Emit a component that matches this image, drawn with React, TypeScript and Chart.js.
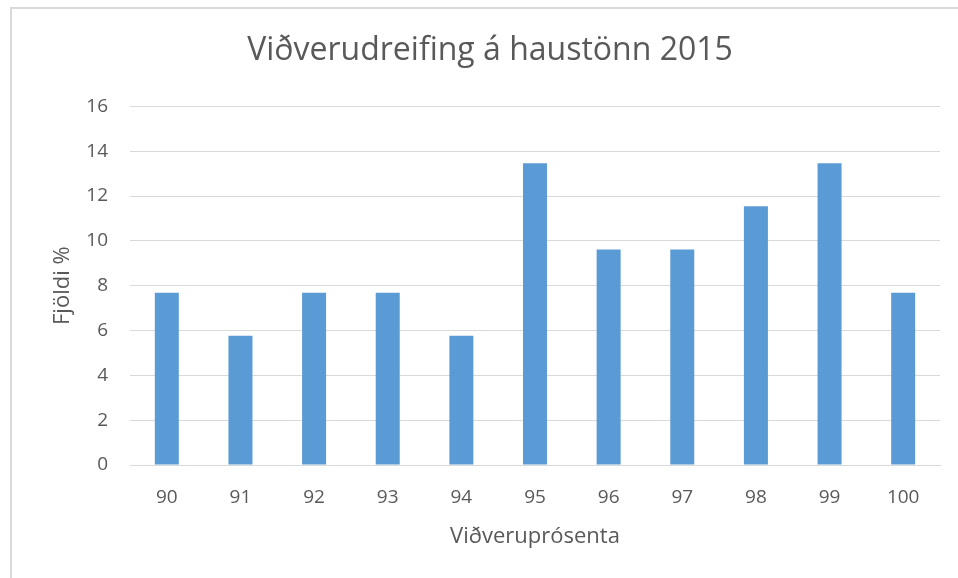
import React, { useEffect, useRef } from "react";
import { Chart, registerables } from "chart.js";

Chart.register(...registerables);

const categories = ["90", "91", "92", "93", "94", "95", "96", "97", "98", "99", "100"];
const values = [7.69, 5.77, 7.69, 7.69, 5.77, 13.46, 9.62, 9.62, 11.54, 13.46, 7.69];
const yTicks = [0, 2, 4, 6, 8, 10, 12, 14, 16];
const titleText = "Viðverudreifing á haustönn 2015";
const xTitle = "Viðveruprósenta";
const yTitle = "Fjöldi %";

const FONT = "'Open Sans', 'Liberation Sans', sans-serif";
const TEXT = "#595959";
const GRID = "#d9d9d9";

export default function App() {
  const ref = useRef<HTMLCanvasElement | null>(null);
  useEffect(() => {
    if (!ref.current) return;
    const chart = new Chart(ref.current, {
      type: "bar",
      data: {
        labels: categories,
        datasets: [
          {
            data: values,
            backgroundColor: "#5B9BD5",
            borderWidth: 0,
            categoryPercentage: 1,
            barPercentage: 0.326,
          },
        ],
      },
      options: {
        animation: false,
        responsive: false,
        maintainAspectRatio: false,
        layout: { padding: { left: 40, right: 18, top: 0, bottom: 0 } },
        plugins: {
          legend: { display: false },
          tooltip: { enabled: false },
          title: {
            display: true,
            text: titleText,
            color: TEXT,
            font: { family: FONT, size: 32, weight: "normal" },
            padding: { top: 32, bottom: 36 },
          },
        },
        scales: {
          x: {
            grid: { display: false, drawTicks: false },
            border: { display: true, color: GRID, width: 1 },
            ticks: {
              color: TEXT,
              font: { family: FONT, size: 19 },
              padding: 21,
              maxRotation: 0,
            },
            title: {
              display: true,
              text: xTitle,
              color: TEXT,
              font: { family: FONT, size: 22 },
              padding: { top: 10, bottom: 28 },
            },
            afterFit: (s: any) => {
              s.height = 113;
            },
          },
          y: {
            min: 0,
            max: 16,
            afterBuildTicks: (s: any) => {
              s.ticks = yTicks.map((v) => ({ value: v }));
            },
            grid: { color: GRID, lineWidth: 1, drawTicks: false },
            border: { display: false },
            ticks: {
              color: TEXT,
              font: { family: FONT, size: 19 },
              padding: 22,
            },
            title: {
              display: true,
              text: yTitle,
              color: TEXT,
              font: { family: FONT, size: 22 },
              padding: { top: 10, bottom: 10 },
            },
            afterFit: (s: any) => {
              s.width = 90;
            },
          },
        },
      },
    });
    return () => chart.destroy();
  }, []);

  return (
    <div
      style={{
        position: "fixed",
        left: 0,
        top: 0,
        width: 958,
        height: 578,
        overflow: "hidden",
        background: "#fff",
      }}
    >
      <div
        style={{
          position: "absolute",
          left: 10,
          top: 7,
          width: 1000,
          height: 700,
          border: "2px solid #d9d9d9",
          boxSizing: "border-box",
        }}
      />
      <canvas
        ref={ref}
        width={958}
        height={578}
        style={{ position: "absolute", left: 0, top: 0, width: 958, height: 578 }}
      />
    </div>
  );
}
